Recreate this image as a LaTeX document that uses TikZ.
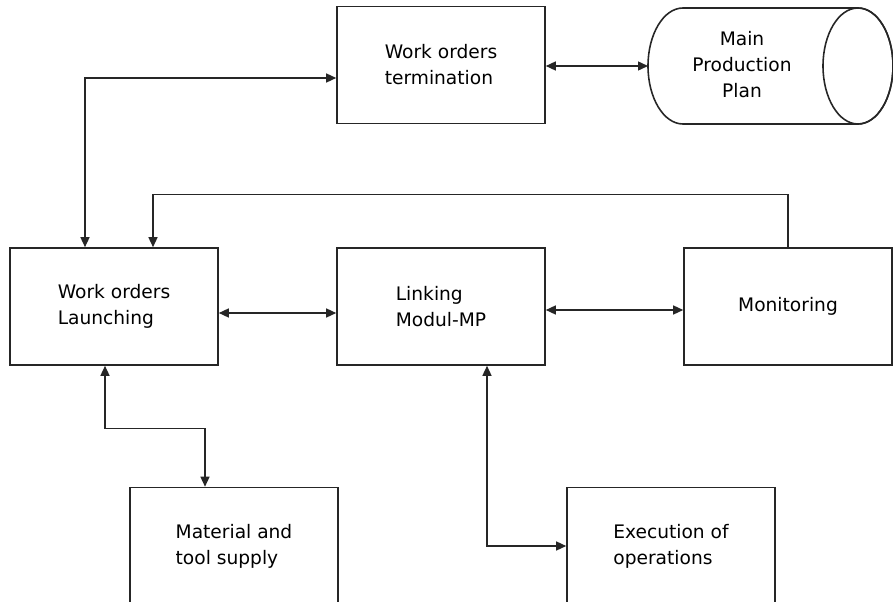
\documentclass[tikz,border=0pt]{standalone}
\usepackage{fontspec}
\setmainfont{DejaVu Sans}
\usepackage{tikz}
\usetikzlibrary{arrows.meta}
\tikzstyle{every node}=[font=\fontsize{10.6}{14.8}\selectfont]
\tikzstyle{block}=[draw=black!85,line width=0.9pt,minimum width=4.16cm,minimum height=2.34cm,align=left]
\tikzstyle{outline}=[draw=black!85,line width=0.9pt]
\tikzstyle{link}=[line width=0.8pt,draw=black!85,>={Triangle[length=2mm,width=1.8mm]}]

\begin{document}
\begin{tikzpicture}
	\useasboundingbox (0,0) rectangle (17.86,-12.04);
	\node[block] (term) at (8.82,-1.30) {Work orders\\termination};
	\node[align=center] (mpp) at (14.84,-1.30) {Main\\Production\\Plan};
	\coordinate (mppin) at (12.96,-1.32);
	\node[block] (launch) at (2.28,-6.13) {Work orders\\Launching};
	\node[block] (linking) at (8.82,-6.13) {Linking\\Modul-MP};
	\node[block] (monitor) at (15.76,-6.13) {Monitoring};
	\node[block] (material) at (4.68,-10.92) {Material and\\tool supply};
	\node[block] (exec) at (13.42,-10.92) {Execution of\\operations};

	% storage drum
	\draw[outline] (13.66,-0.16) arc (90:270:0.7 and 1.16) -- (17.16,-2.48)
		arc (-90:90:0.7 and 1.16) -- cycle;
	\draw[outline] (17.16,-1.32) ellipse (0.7 and 1.16);

	\draw[link,<->] (term.east |- mppin) -- (mppin);
	\draw[link,<->] ([yshift=-2.6mm]term.west) -| ([xshift=-5.8mm]launch.north);
	\draw[link,->] (monitor.north) -- ++(0,1.06) -| ([xshift=7.8mm]launch.north);
	\draw[link,<->] ([yshift=-1.3mm]launch.east) -- ([yshift=-1.3mm]linking.west);
	\draw[link,<->] ([yshift=-0.7mm]linking.east) -- ([yshift=-0.7mm]monitor.west);
	\draw[link,<->] ([xshift=-1.8mm]launch.south) -- ++(0,-1.26) -| ([xshift=-5.8mm]material.north);
	\draw[link,<->] ([xshift=9.2mm]linking.south) |- (exec.west);
\end{tikzpicture}
\end{document}
